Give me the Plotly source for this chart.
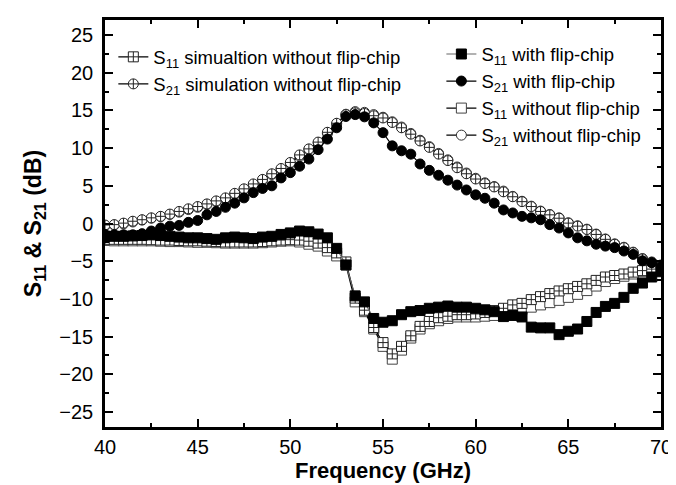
import plotly.graph_objects as go

freq = [40.0, 40.5, 41.0, 41.5, 42.0, 42.5, 43.0, 43.5, 44.0, 44.5,
        45.0, 45.5, 46.0, 46.5, 47.0, 47.5, 48.0, 48.5, 49.0, 49.5,
        50.0, 50.5, 51.0, 51.5, 52.0, 52.5, 53.0, 53.5, 54.0, 54.5,
        55.0, 55.5, 56.0, 56.5, 57.0, 57.5, 58.0, 58.5, 59.0, 59.5,
        60.0, 60.5, 61.0, 61.5, 62.0, 62.5, 63.0, 63.5, 64.0, 64.5,
        65.0, 65.5, 66.0, 66.5, 67.0, 67.5, 68.0, 68.5, 69.0, 69.5, 70.0]

s11_sim = [-2.1, -2.1, -2.1, -2.1, -2.1, -2.15, -2.2, -2.2, -2.25, -2.3,
           -2.3, -2.35, -2.4, -2.45, -2.45, -2.45, -2.45, -2.4, -2.3, -2.2,
           -2.15, -2.2, -2.35, -2.6, -3.2, -3.9, -5.1, -9.9, -11.5, -13.8,
           -15.8, -17.3, -16.3, -14.9, -13.65, -13.0, -12.5, -12.3, -12.1, -12.1,
           -12.0, -11.8, -11.55, -11.25, -10.8, -10.6, -10.1, -9.7, -9.3, -8.95,
           -8.65, -8.35, -8.0, -7.55, -7.1, -6.9, -6.7, -6.45, -6.25, -6.05, -5.8]

s21_sim = [-0.2, -0.15, 0.05, 0.3, 0.5, 0.75, 0.95, 1.25, 1.6, 1.95,
           2.25, 2.6, 3.0, 3.4, 4.0, 4.6, 5.25, 5.85, 6.6, 7.3,
           8.1, 9.1, 9.9, 10.8, 12.1, 13.3, 14.45, 14.7, 14.6, 14.3,
           14.0, 13.4, 12.7, 11.85, 10.95, 10.1, 9.2, 8.35, 7.4, 6.6,
           5.9, 5.3, 4.85, 4.2, 3.55, 2.9, 2.25, 1.6, 1.15, 0.7,
           0.05, -0.35, -0.8, -1.45, -2.1, -2.75, -3.2, -3.85, -4.7, -5.15, -5.6]

s11_flip = [-1.7, -1.7, -1.7, -1.65, -1.6, -1.5, -1.6, -1.7, -1.8, -1.9,
            -1.9, -2.0, -2.1, -1.9, -1.8, -1.9, -2.0, -1.8, -1.7, -1.45,
            -1.25, -1.0, -1.1, -1.4, -1.9, -3.3, -5.5, -9.6, -10.4, -12.6,
            -13.1, -12.9, -12.1, -11.7, -11.55, -11.25, -11.1, -10.95, -11.1, -11.1,
            -11.25, -11.45, -11.7, -12.35, -12.2, -12.4, -13.75, -13.85, -13.85, -14.75,
            -14.3, -14.0, -13.0, -11.8, -11.0, -10.6, -9.8, -8.6, -7.9, -7.1, -6.4]

s21_flip = [-1.45, -1.5, -1.5, -1.5, -1.35, -1.0, -0.6, -0.35, -0.25, 0.15,
            0.4, 1.15, 1.6, 2.15, 2.7, 3.4, 4.1, 4.65, 5.0, 6.05,
            6.75, 7.6, 8.55, 9.8, 11.2, 12.7, 14.2, 14.45, 14.15, 13.35,
            12.05, 10.3, 9.65, 9.2, 7.9, 7.05, 6.4, 5.75, 5.1, 4.45,
            3.8, 3.35, 2.7, 1.8, 1.4, 0.95, 0.75, 0.5, -0.15, -0.6,
            -1.25, -1.9, -2.3, -2.75, -3.0, -3.2, -3.65, -4.1, -4.95, -5.2, -5.7]

s11_noflip = [-2.25, -2.3, -2.3, -2.3, -2.3, -2.3, -2.35, -2.4, -2.4, -2.45,
              -2.5, -2.5, -2.55, -2.6, -2.6, -2.6, -2.6, -2.55, -2.45, -2.35,
              -2.3, -2.45, -2.75, -3.0, -3.65, -4.3, -5.5, -10.4, -11.7, -14.0,
              -16.3, -18.0, -16.8, -15.2, -14.0, -13.3, -12.9, -12.6, -12.4, -12.4,
              -12.4, -12.3, -12.2, -12.0, -11.7, -11.4, -11.1, -10.8, -10.5, -10.2,
              -9.8, -9.4, -8.9, -8.3, -7.7, -7.3, -7.0, -6.7, -6.4, -6.1, -5.9]

s21_noflip = [-0.3, -0.2, -0.05, 0.2, 0.45, 0.7, 0.9, 1.2, 1.5, 1.85,
              2.15, 2.5, 2.9, 3.3, 3.9, 4.5, 5.1, 5.75, 6.5, 7.2,
              8.0, 8.95, 9.8, 10.7, 11.95, 13.2, 14.5, 14.85, 14.75, 14.45,
              14.1, 13.5, 12.8, 11.95, 11.05, 10.2, 9.3, 8.45, 7.5, 6.7,
              6.0, 5.4, 4.9, 4.3, 3.6, 2.95, 2.3, 1.65, 1.2, 0.75,
              0.1, -0.3, -0.75, -1.4, -2.05, -2.7, -3.15, -3.8, -4.65, -5.1, -5.5]

names = {
    "s11_sim": "S<sub>11</sub> simualtion without flip-chip",
    "s21_sim": "S<sub>21</sub> simulation without flip-chip",
    "s11_flip": "S<sub>11</sub> with flip-chip",
    "s21_flip": "S<sub>21</sub> with flip-chip",
    "s11_noflip": "S<sub>11</sub> without flip-chip",
    "s21_noflip": "S<sub>21</sub> without flip-chip",
}

fig = go.Figure()

def add(y, key, symbol, fill, lcolor, legend, rank, mline="#222"):
    fig.add_trace(go.Scatter(
        x=freq, y=y, name=names[key], mode="lines+markers",
        line=dict(color=lcolor, width=1.2),
        marker=dict(symbol=symbol, size=10, color=fill,
                    line=dict(color=mline, width=1)),
        legend=legend, legendrank=rank,
    ))

# draw order: open markers below, filled on top
add(s11_noflip, "s11_noflip", "square", "white", "#000", "legend2", 3, mline="#444")
add(s21_noflip, "s21_noflip", "circle", "white", "#000", "legend2", 4, mline="#333")
add(s11_sim, "s11_sim", "square-cross", "white", "#000", "legend", 1, mline="#222")
add(s21_sim, "s21_sim", "circle-cross", "white", "#000", "legend", 2, mline="#222")
add(s11_flip, "s11_flip", "square", "black", "#666", "legend2", 1, mline="black")
add(s21_flip, "s21_flip", "circle", "black", "#000", "legend2", 2, mline="black")

font = "Liberation Sans, Arial, sans-serif"

axis_common = dict(
    showline=True, linecolor="black", linewidth=2.5, mirror="ticks",
    ticks="inside", ticklen=8, tickwidth=2, tickcolor="black",
    showgrid=False, zeroline=False,
    tickfont=dict(family=font, size=20, color="black"),
)

fig.update_xaxes(
    range=[40, 70], dtick=5, tick0=40,
    minor=dict(ticks="inside", ticklen=4, tickwidth=2, dtick=2.5, tickcolor="black", showgrid=False),
    title=dict(text="<b>Frequency (GHz)</b>", font=dict(family=font, size=22, color="black"), standoff=0),
    **axis_common,
)
fig.update_yaxes(
    range=[-27, 27], dtick=5, tick0=0, ticklabelstandoff=5,
    minor=dict(ticks="inside", ticklen=4, tickwidth=2, dtick=2.5, tickcolor="black", showgrid=False),
    title=dict(text="<b>S<sub>11</sub> & S<sub>21</sub> (dB)</b>", font=dict(family=font, size=23, color="black"), standoff=12),
    **axis_common,
)

legend_common = dict(
    bgcolor="rgba(0,0,0,0)", borderwidth=0,
    font=dict(family=font, size=18.5, color="black"),
    tracegroupgap=0, itemwidth=30, yanchor="top", xanchor="left",
)

fig.update_layout(
    width=676, height=485,
    margin=dict(l=97, r=23, t=9, b=66),
    paper_bgcolor="white", plot_bgcolor="white",
    showlegend=True,
    legend=dict(x=0.015, y=0.955, **legend_common),
    legend2=dict(x=0.605, y=0.962, **legend_common),
)

fig.write_html("out.html")
